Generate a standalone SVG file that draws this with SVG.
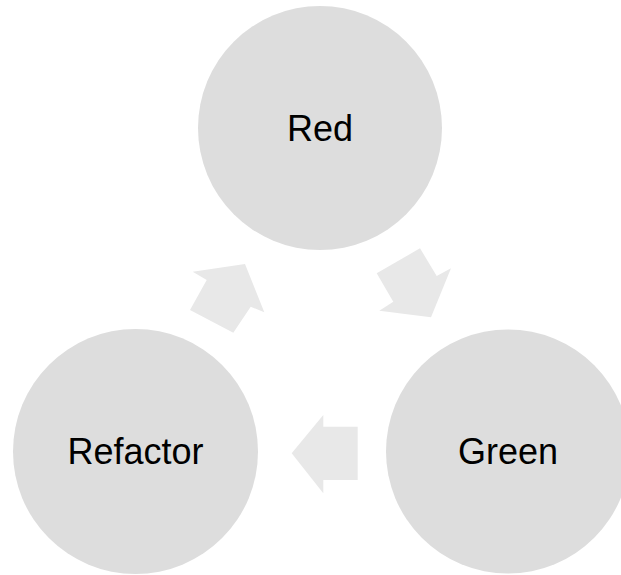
<svg xmlns="http://www.w3.org/2000/svg" width="621" height="575" viewBox="0 0 621 575">
<style>
.node{fill:#dddddd}
.lbl{font-family:"Liberation Sans",Arial,sans-serif;font-size:36px;fill:#000;text-anchor:middle}
.arr{fill:#e8e8e8}
</style>
<rect width="621" height="575" fill="#ffffff"/>
<g id="connectors">
<polygon class="arr" points="245,264 192.7,271.7 206.7,280 190,310 233.3,332.7 250.7,306.7 264.3,312.3"/>
<polygon class="arr" points="376.7,273.3 420,248.3 436.7,276 451,268.3 431,317.3 379.3,310.7 393.3,301.7"/>
<polygon class="arr" points="357.7,426.7 357.7,480 323.3,480 323.3,493.3 291.7,453.3 323.3,415 323.3,426.7"/>
</g>
<g id="red">
<circle class="node" cx="320" cy="128" r="122"/>
<text class="lbl" x="320" y="140.5">Red</text>
</g>
<g id="green">
<circle class="node" cx="508" cy="451.5" r="122"/>
<text class="lbl" x="508" y="464">Green</text>
</g>
<g id="refactor">
<circle class="node" cx="135.5" cy="451.5" r="122.5"/>
<text class="lbl" x="135.5" y="464">Refactor</text>
</g>
</svg>
